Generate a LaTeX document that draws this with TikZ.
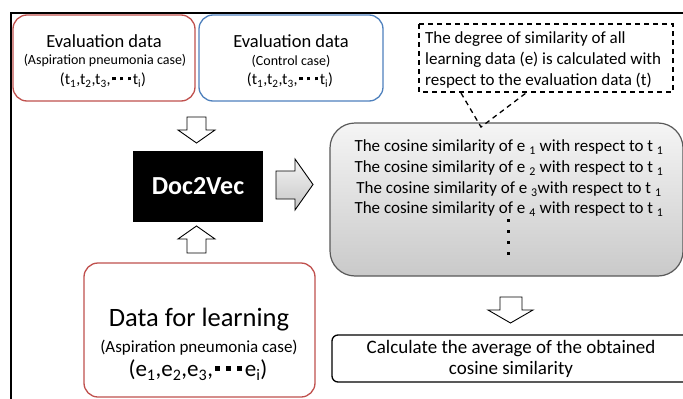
\documentclass[tikz,border=0pt]{standalone}
\usepackage{fontspec}
\setmainfont{Carlito}
\usetikzlibrary{shadings}
\definecolor{redb}{HTML}{C0504D}
\definecolor{blueb}{HTML}{4F81BD}
\newcommand{\dds}{\hspace{0.1em}\rule[0.26em]{0.2em}{0.2em}\hspace{0.28em}\rule[0.26em]{0.2em}{0.2em}\hspace{0.28em}\rule[0.26em]{0.2em}{0.2em}\hspace{0.12em}}
\newcommand{\sbs}[1]{\textsubscript{#1}}
\begin{document}
\begin{tikzpicture}[x=1pt,y=-1pt,
  rbox/.style={draw=redb,line width=1.3pt,rounded corners=14pt},
  bbox/.style={draw=blueb,line width=1.3pt,rounded corners=14pt},
  blk/.style={draw=black,line width=0.9pt,fill=white,line join=miter},
  txt/.style={inner sep=0pt,align=center}]
\useasboundingbox (0,0) rectangle (683,399);
\fill[white] (0,0) rectangle (683,399);
% frame
\draw[line width=2pt] (684,13) -- (11,13) -- (11,400);
% evaluation boxes
\draw[rbox] (13,15) rectangle (195,101);
\node[txt,font=\fontsize{18.5}{20}\selectfont] (e1a) at (104,41) {Evaluation data};
\node[txt,font=\fontsize{14}{15}\selectfont] (e1b) at (105,61) {(Aspiration pneumonia case)};
\node[txt,font=\fontsize{16}{18}\selectfont] (e1c) at (103,80) {(t\sbs{1},t\sbs{2},t\sbs{3},\dds t\sbs{i})};
\draw[bbox] (199,15) rectangle (383,101);
\node[txt,font=\fontsize{18.5}{20}\selectfont] (e2a) at (291,41) {Evaluation data};
\node[txt,font=\fontsize{14}{15}\selectfont] (e2b) at (291,61) {(Control case)};
\node[txt,font=\fontsize{16}{18}\selectfont] (e2c) at (290,80) {(t\sbs{1},t\sbs{2},t\sbs{3},\dds t\sbs{i})};
% Doc2Vec
\node[fill=black,minimum width=130pt,minimum height=71pt,inner sep=0pt,text=white,font=\fontsize{26}{28}\bfseries\selectfont] (d2v) at (198,186.5) {Doc2Vec};
% block arrows
\draw[blk] (187,117) -- (206,117) -- (206,130) -- (215,130) -- (196.5,143) -- (178,130) -- (187,130) -- cycle;
\draw[blk] (187,253) -- (206,253) -- (206,239) -- (215,239) -- (196.5,226) -- (178,239) -- (187,239) -- cycle;
\draw[line width=0.9pt,line join=miter,top color=gray!8,bottom color=gray!45] (276,171) -- (295,171) -- (295,159) -- (313,184.5) -- (295,210) -- (295,199) -- (276,199) -- cycle;
\draw[blk] (500,297) -- (522,297) -- (522,310) -- (533,310) -- (510.5,323) -- (488,310) -- (500,310) -- cycle;
% gray box
\draw[draw=black!65,line width=1.2pt,rounded corners=25pt,top color=gray!8,bottom color=gray!42] (330,123) rectangle (683,276);
\begin{scope}[font=\fontsize{17}{18}\selectfont]
\node[txt] (c1) at (509,147) {The cosine similarity of e \sbs{1} with respect to t \sbs{1}};
\node[txt] (c2) at (509,168) {The cosine similarity of e \sbs{2} with respect to t \sbs{1}};
\node[txt] (c3) at (509,189) {The cosine similarity of e \sbs{3}with respect to t \sbs{1}};
\node[txt] (c4) at (509,209) {The cosine similarity of e \sbs{4} with respect to t \sbs{1}};
\end{scope}
\foreach \yy in {219,230,241,252} \fill (506.5,\yy) rectangle (509.5,\yy+3);
% dashed callout
\draw[dashed,line width=1.3pt,dash pattern=on 5pt off 4pt] (419,24) rectangle (673,92);
\draw[dashed,line width=1.3pt,dash pattern=on 5pt off 4pt] (461,93) -- (481,127) -- (526,93);
\node[txt,align=left,anchor=west,font=\fontsize{17}{21}\selectfont] (note) at (425,60) {The degree of similarity of all\\learning data (e) is calculated with\\respect to the evaluation data (t)};
% learning box
\draw[rbox] (84,263) rectangle (315,397);
\node[txt,font=\fontsize{26.5}{28}\selectfont] (l1) at (199,320) {Data for learning};
\node[txt,font=\fontsize{17}{18}\selectfont] (l2) at (199,348) {(Aspiration pneumonia case)};
\node[txt,font=\fontsize{23}{24}\selectfont] (l3) at (198,370) {(e\sbs{1},e\sbs{2},e\sbs{3},\dds e\sbs{i})};
% average box
\draw[line width=1.3pt,rounded corners=6pt] (332,335) rectangle (700,382);
\node[txt,font=\fontsize{19}{21}\selectfont] (avg) at (511,358.5) {Calculate the average of the obtained\\cosine similarity};
\end{tikzpicture}
\end{document}
